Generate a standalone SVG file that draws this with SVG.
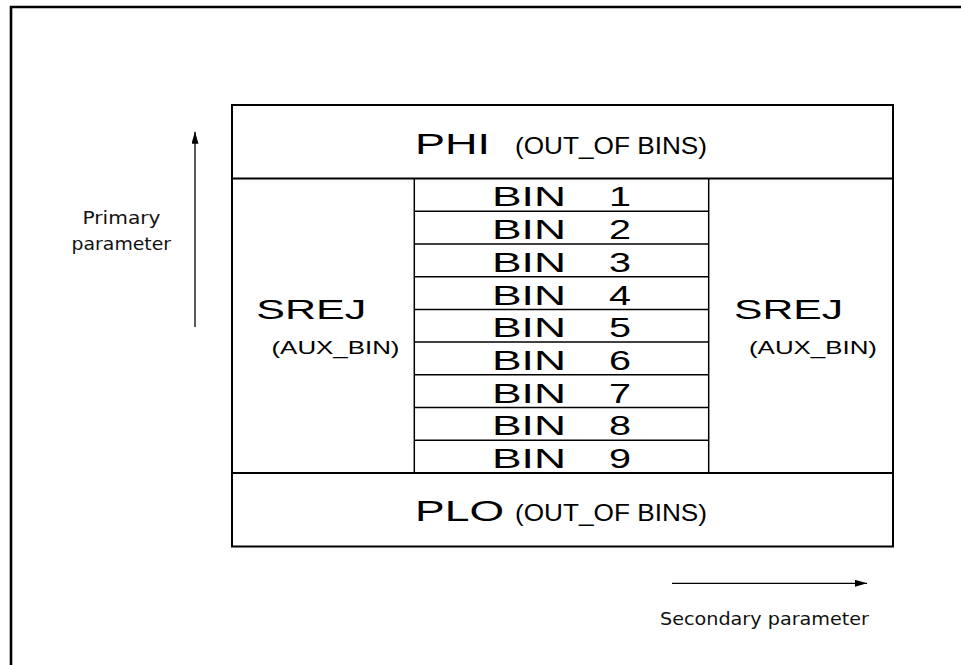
<svg xmlns="http://www.w3.org/2000/svg" width="961" height="665" viewBox="0 0 961 665">
<style>
.ln{stroke:#000;fill:none}
.big{font-family:"Liberation Sans",Arial,sans-serif;fill:#000}
.sm{font-family:"DejaVu Sans","Liberation Sans",sans-serif;font-size:18.5px;fill:#111}
.bin{font-family:"Liberation Sans",Arial,sans-serif;font-size:28px;fill:#000}
</style>
<defs>
<marker id="ah" viewBox="0 0 12 7" refX="12" refY="3.5" markerWidth="12" markerHeight="7" markerUnits="userSpaceOnUse" orient="auto">
<path d="M0,0 L12,3.5 L0,7 Z" fill="#000"/>
</marker>
</defs>
<rect width="961" height="665" fill="#fff"/>
<g id="frame"><path class="ln" d="M11,665 V7 H961" stroke-width="2.6"/></g>
<g id="table">
<rect class="ln" x="232" y="105" width="661" height="441.5" stroke-width="2"/>
<line class="ln" x1="232" y1="178.5" x2="893" y2="178.5" stroke-width="2.2"/>
<line class="ln" x1="232" y1="473" x2="893" y2="473" stroke-width="1.8"/>
<line class="ln" x1="414.3" y1="178.5" x2="414.3" y2="473" stroke-width="1.5"/>
<line class="ln" x1="708.7" y1="178.5" x2="708.7" y2="473" stroke-width="1.5"/>
</g>
<g id="phi">
<text class="big" x="415" y="154" font-size="29" textLength="75" lengthAdjust="spacingAndGlyphs">PHI</text>
<text class="big" x="515" y="154" font-size="24.5" textLength="192" lengthAdjust="spacingAndGlyphs">(OUT_OF BINS)</text>
</g>
<g id="plo">
<text class="big" x="415" y="521" font-size="30" textLength="89" lengthAdjust="spacingAndGlyphs">PLO</text>
<text class="big" x="515" y="521" font-size="24.5" textLength="192" lengthAdjust="spacingAndGlyphs">(OUT_OF BINS)</text>
</g>
<g id="srej-left">
<text class="big" x="256.3" y="319.3" font-size="27" textLength="110" lengthAdjust="spacingAndGlyphs">SREJ</text>
<text class="big" x="271.5" y="354" font-size="18.5" textLength="128" lengthAdjust="spacingAndGlyphs">(AUX_BIN)</text>
</g>
<g id="srej-right">
<text class="big" x="734" y="319.3" font-size="27" textLength="109" lengthAdjust="spacingAndGlyphs">SREJ</text>
<text class="big" x="749" y="354" font-size="18.5" textLength="128" lengthAdjust="spacingAndGlyphs">(AUX_BIN)</text>
</g>
<g id="bins">
<g class="ln" stroke-width="1.5">
<line x1="414.3" y1="211.2" x2="708.7" y2="211.2"/>
<line x1="414.3" y1="243.9" x2="708.7" y2="243.9"/>
<line x1="414.3" y1="276.7" x2="708.7" y2="276.7"/>
<line x1="414.3" y1="309.4" x2="708.7" y2="309.4"/>
<line x1="414.3" y1="342.1" x2="708.7" y2="342.1"/>
<line x1="414.3" y1="374.8" x2="708.7" y2="374.8"/>
<line x1="414.3" y1="407.6" x2="708.7" y2="407.6"/>
<line x1="414.3" y1="440.3" x2="708.7" y2="440.3"/>
</g>
<g id="bin1"><text class="bin" x="492" y="206.3" textLength="74" lengthAdjust="spacingAndGlyphs">BIN</text><text class="bin" x="609" y="206.3" textLength="22" lengthAdjust="spacingAndGlyphs">1</text></g>
<g id="bin2"><text class="bin" x="492" y="239" textLength="74" lengthAdjust="spacingAndGlyphs">BIN</text><text class="bin" x="609" y="239" textLength="22" lengthAdjust="spacingAndGlyphs">2</text></g>
<g id="bin3"><text class="bin" x="492" y="271.7" textLength="74" lengthAdjust="spacingAndGlyphs">BIN</text><text class="bin" x="609" y="271.7" textLength="22" lengthAdjust="spacingAndGlyphs">3</text></g>
<g id="bin4"><text class="bin" x="492" y="304.5" textLength="74" lengthAdjust="spacingAndGlyphs">BIN</text><text class="bin" x="609" y="304.5" textLength="22" lengthAdjust="spacingAndGlyphs">4</text></g>
<g id="bin5"><text class="bin" x="492" y="337.2" textLength="74" lengthAdjust="spacingAndGlyphs">BIN</text><text class="bin" x="609" y="337.2" textLength="22" lengthAdjust="spacingAndGlyphs">5</text></g>
<g id="bin6"><text class="bin" x="492" y="369.9" textLength="74" lengthAdjust="spacingAndGlyphs">BIN</text><text class="bin" x="609" y="369.9" textLength="22" lengthAdjust="spacingAndGlyphs">6</text></g>
<g id="bin7"><text class="bin" x="492" y="402.6" textLength="74" lengthAdjust="spacingAndGlyphs">BIN</text><text class="bin" x="609" y="402.6" textLength="22" lengthAdjust="spacingAndGlyphs">7</text></g>
<g id="bin8"><text class="bin" x="492" y="435.4" textLength="74" lengthAdjust="spacingAndGlyphs">BIN</text><text class="bin" x="609" y="435.4" textLength="22" lengthAdjust="spacingAndGlyphs">8</text></g>
<g id="bin9"><text class="bin" x="492" y="467.8" textLength="74" lengthAdjust="spacingAndGlyphs">BIN</text><text class="bin" x="609" y="467.8" textLength="22" lengthAdjust="spacingAndGlyphs">9</text></g>
</g>
<g id="primary-label">
<text class="sm" x="82.5" y="223.5" textLength="78" lengthAdjust="spacingAndGlyphs">Primary</text>
<text class="sm" x="71.6" y="250" textLength="99.5" lengthAdjust="spacingAndGlyphs">parameter</text>
</g>
<g id="secondary-label">
<text class="sm" x="660" y="625" font-size="19" textLength="209" lengthAdjust="spacingAndGlyphs">Secondary parameter</text>
</g>
<g id="connectors">
<line class="ln" x1="195" y1="327" x2="195" y2="131.7" stroke-width="1.3" marker-end="url(#ah)"/>
<line class="ln" x1="672" y1="583.3" x2="867" y2="583.3" stroke-width="1.3" marker-end="url(#ah)"/>
</g>
</svg>
